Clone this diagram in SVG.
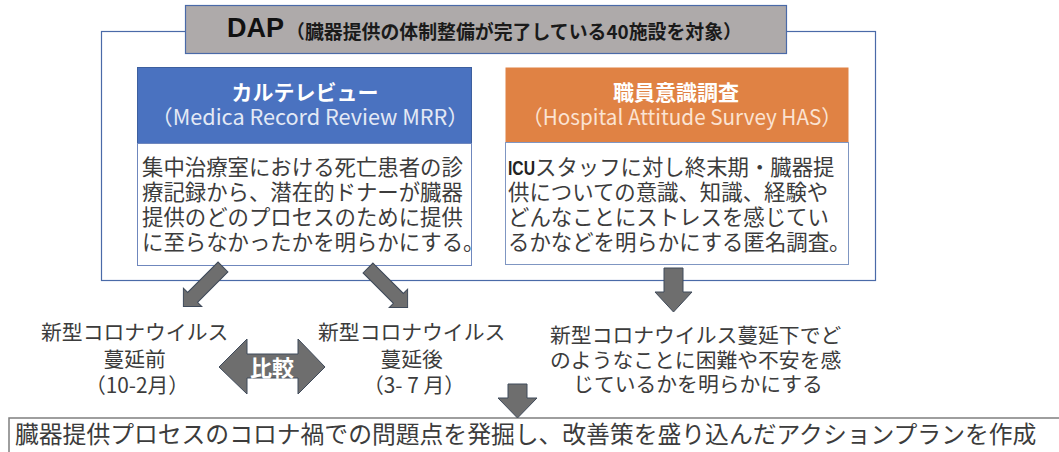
<svg xmlns="http://www.w3.org/2000/svg" width="1059" height="452" viewBox="0 0 1059 452">
<style>
  .jp { font-family: "Noto Sans CJK JP", "Noto Sans", sans-serif; }
  .body { font-family: "Noto Sans CJK JP", sans-serif; font-size: 21.4px; fill: #3c3c3c; }
  .lbl { font-family: "Noto Sans CJK JP", sans-serif; font-size: 20.8px; fill: #3c3c3c; text-anchor: middle; }
  .hdr { font-family: "Noto Sans CJK JP", sans-serif; font-size: 21px; text-anchor: middle; }
  .arrow { fill: #6e6e6e; stroke: #3f4a5a; stroke-width: 1; }
</style>
<rect width="1059" height="452" fill="#ffffff"/>

<g id="frame">
  <rect x="101.5" y="31.5" width="774" height="249" fill="none" stroke="#4a6aa8" stroke-width="1.2"/>
</g>

<g id="dap">
  <rect x="185.5" y="5.5" width="601" height="48" fill="#aeaaaa" stroke="#4a6aa8" stroke-width="1.2"/>
  <text x="227" y="37" font-family="Liberation Sans, Arial, sans-serif" font-size="27" font-weight="bold" fill="#111">DAP</text>
  <text x="286" y="38.5" class="jp" font-size="18.8" font-weight="bold" fill="#1a1a1a" textLength="456" lengthAdjust="spacingAndGlyphs">（臓器提供の体制整備が完了している40施設を対象）</text>
</g>

<g id="mrr">
  <rect x="137.5" y="67.5" width="334" height="76" fill="#4a72c0" stroke="#3d5f9e" stroke-width="1"/>
  <text x="305" y="100" class="hdr" font-weight="bold" fill="#ffffff">カルテレビュー</text>
  <text x="310" y="125" class="hdr" fill="#e3e9f5" textLength="318" lengthAdjust="spacingAndGlyphs">（Medica Record Review MRR）</text>
  <rect x="137.5" y="143.5" width="334" height="122" fill="#ffffff" stroke="#6f87bd" stroke-width="1"/>
  <text class="body">
    <tspan x="142" y="175">集中治療室における死亡患者の診</tspan>
    <tspan x="142" y="200">療記録から、潜在的ドナーが臓器</tspan>
    <tspan x="142" y="225">提供のどのプロセスのために提供</tspan>
    <tspan x="142" y="250">に至らなかったかを明らかにする。</tspan>
  </text>
</g>

<g id="has">
  <rect x="505.5" y="67.5" width="343" height="75" fill="#e08244"/>
  <text x="676" y="100" class="hdr" font-weight="bold" fill="#ffffff">職員意識調査</text>
  <text x="682" y="125" class="hdr" fill="#fbe3d2" textLength="320" lengthAdjust="spacingAndGlyphs">（Hospital Attitude Survey HAS）</text>
  <rect x="505.5" y="142.5" width="343" height="122" fill="#ffffff" stroke="#7f96c2" stroke-width="1"/>
  <text class="body">
    <tspan x="508" y="175" font-family="Liberation Sans, Arial, sans-serif" font-weight="bold" font-size="20.5" textLength="27" lengthAdjust="spacingAndGlyphs" fill="#222">ICU</tspan><tspan>スタッフに対し終末期・臓器提</tspan>
    <tspan x="508" y="200">供についての意識、知識、経験や</tspan>
    <tspan x="508" y="225">どんなことにストレスを感じてい</tspan>
    <tspan x="508" y="250">るかなどを明らかにする匿名調査。</tspan>
  </text>
</g>

<g id="before">
  <text class="lbl">
    <tspan x="137" y="340">新型コロナウイルス</tspan>
    <tspan x="137" y="367">蔓延前</tspan>
    <tspan x="137" y="393">（10-2月）</tspan>
  </text>
</g>

<g id="after">
  <text class="lbl">
    <tspan x="414" y="340">新型コロナウイルス</tspan>
    <tspan x="414" y="367">蔓延後</tspan>
    <tspan x="414" y="393">（3- 7 月）</tspan>
  </text>
</g>

<g id="has-result">
  <text class="lbl">
    <tspan x="698" y="343">新型コロナウイルス蔓延下でど</tspan>
    <tspan x="698" y="368">のようなことに困難や不安を感</tspan>
    <tspan x="698" y="392">じているかを明らかにする</tspan>
  </text>
</g>

<g id="compare">
  <polygon class="arrow" points="219,367 247,339 247,354 298,354 298,339 325,367 298,394 298,378 247,378 247,394" stroke="#4a6aa8"/>
  <text x="272" y="376" class="jp" font-size="22" font-weight="bold" fill="#ffffff" text-anchor="middle">比較</text>
</g>

<g id="action">
  <rect x="9" y="418" width="1060" height="50" fill="#ffffff" stroke="#7f7f7f" stroke-width="1.5"/>
  <text x="15" y="443" class="jp" font-size="23.8" fill="#3c3c3c">臓器提供プロセスのコロナ禍での問題点を発掘し、改善策を盛り込んだアクションプランを作成</text>
</g>

<g id="connectors">
  <polygon class="arrow" transform="translate(223,267) rotate(135)" points="0,-7 43,-7 43,-13 56,0 43,13 43,7 0,7"/>
  <polygon class="arrow" transform="translate(368,268) rotate(45)" points="0,-7 43,-7 43,-13 56,0 43,13 43,7 0,7"/>
  <polygon class="arrow" points="664,268 683,268 683,292 692,292 673.5,312 655,292 664,292"/>
  <polygon class="arrow" points="508,384 527,384 527,398 537,398 517.5,418 498,398 508,398"/>
</g>
</svg>
